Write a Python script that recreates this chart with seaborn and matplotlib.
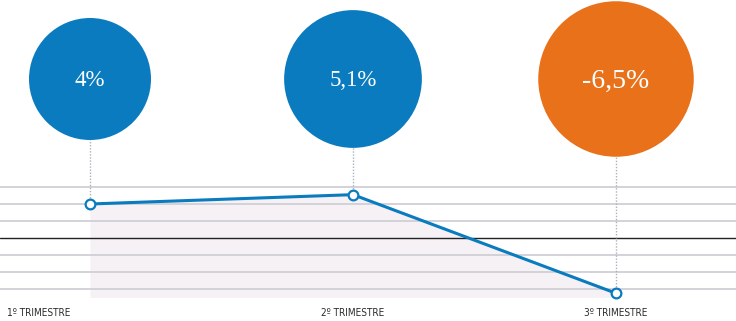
import numpy as np
import pandas as pd
import matplotlib
matplotlib.use("Agg")
import matplotlib.pyplot as plt
import matplotlib.transforms as mtransforms
import seaborn as sns

# ---- data ----
categories = ["1º TRIMESTRE", "2º TRIMESTRE", "3º TRIMESTRE"]
values = [4.0, 5.1, -6.5]
value_labels = ["4%", "5,1%", "-6,5%"]

BLUE = "#0a7bbf"
ORANGE = "#e8711a"

sns.set_style("white")
plt.rcParams["font.family"] = ["DejaVu Sans"]

W, H = 736, 321
fig = plt.figure(figsize=(W / 100, H / 100), dpi=100)
ax = fig.add_axes([0, 0, 1, 1])

# pixel mapping: x index 0 -> 90px, spacing 263px ; y: 0 -> 238px, 8.5 px per unit
xpx0, xstep = 90, 263
ypx0, ystep = 238, 8.5
ax.set_xlim(-xpx0 / xstep, (W - xpx0) / xstep)
ax.set_ylim(-(H - ypx0) / ystep, ypx0 / ystep)
ax.axis("off")

df = pd.DataFrame({"x": np.arange(len(values)), "v": values, "cat": categories})

# shaded area below the line
ax.fill_between(df["x"], df["v"], -7, color="#f5f1f5", zorder=1, linewidth=0)

# grid lines
for g in [-6, -4, -2, 2, 4, 6]:
    ax.axhline(g, color="#d2d2d8", lw=1.4, zorder=2)
ax.axhline(0, color="#222222", lw=1.0, zorder=2)

# bubble positions
circle_y = (ypx0 - 79) / ystep
text_y = (ypx0 - 81) / ystep
diam_px = 61 * np.sqrt(np.abs(df["v"]))
sizes = (diam_px * 0.72) ** 2
colors = [BLUE if v >= 0 else ORANGE for v in values]

# dotted connectors
ax.vlines(df["x"], df["v"], circle_y, colors="#a9b3bc", linestyles=(0, (1, 1.2)),
          lw=1.0, zorder=2.5)

# line with open markers
sns.lineplot(data=df, x="x", y="v", ax=ax, color=BLUE, lw=2.2, marker="o",
             markersize=7, markerfacecolor="white", markeredgecolor=BLUE,
             markeredgewidth=1.6, zorder=4, legend=False)

# bubbles
ax.scatter(df["x"], [circle_y] * len(df), s=sizes, c=colors, linewidths=0, zorder=5)

font_sizes = [16.5, 16.5, 20]
for xi, lab, fs in zip(df["x"], value_labels, font_sizes):
    ax.text(xi, text_y, lab, color="white", ha="center", va="center",
            fontsize=fs, family=["Liberation Serif", "DejaVu Serif"], zorder=6)

# category labels
label_y = (ypx0 - 313) / ystep
blend = mtransforms.blended_transform_factory(ax.transAxes, ax.transData)
for i, cat in enumerate(categories):
    kw = dict(va="center", fontsize=7.2, color="#2a2a2a",
              family=["DejaVu Sans"], fontstretch="condensed")
    if i == 0:
        ax.text(7 / W, label_y, cat, transform=blend, ha="left", **kw)
    else:
        ax.text(i, label_y, cat, ha="center", **kw)

fig.savefig("out.png", dpi=100)
